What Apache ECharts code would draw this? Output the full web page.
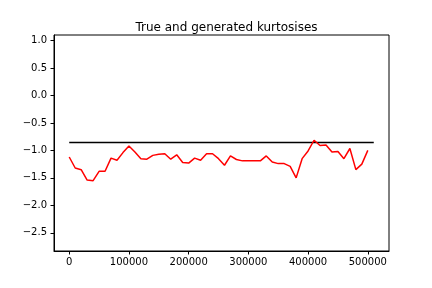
<!DOCTYPE html>
<html>
<head>
<meta charset="utf-8">
<script src="https://cdn.jsdelivr.net/npm/echarts@6/dist/echarts.min.js"></script>
<style>html,body{margin:0;padding:0;background:#fff}#c{width:432px;height:288px}</style>
</head>
<body>
<div id="c"></div>
<script>
const steps = [0,10000,20000,30000,40000,50000,60000,70000,80000,90000,
  100000,110000,120000,130000,140000,150000,160000,170000,180000,190000,
  200000,210000,220000,230000,240000,250000,260000,270000,280000,290000,
  300000,310000,320000,330000,340000,350000,360000,370000,380000,390000,
  400000,410000,420000,430000,440000,450000,460000,470000,480000,490000,500000];
const generatedKurtosis = [-1.12,-1.32,-1.35,-1.54,-1.55,-1.38,-1.38,-1.14,-1.18,-1.04,
  -0.92,-1.03,-1.15,-1.16,-1.09,-1.07,-1.06,-1.16,-1.08,-1.22,
  -1.23,-1.14,-1.18,-1.06,-1.06,-1.15,-1.27,-1.10,-1.165,-1.19,
  -1.19,-1.19,-1.19,-1.10,-1.21,-1.24,-1.24,-1.29,-1.50,-1.15,
  -1.01,-0.815,-0.91,-0.90,-1.03,-1.02,-1.15,-0.965,-1.35,-1.25,-1.00];
const trueX = [0, 510000];
const trueKurtosis = [-0.855, -0.855];
const xTicks = [0,100000,200000,300000,400000,500000];
const yTicks = [-2.5,-2.0,-1.5,-1.0,-0.5,0.0,0.5,1.0];
const titleText = 'True and generated kurtosises';

const font = 'DejaVu Sans';
const fmtY = v => (v < 0 ? '\u2212' : '') + Math.abs(v).toFixed(1);
const chart = echarts.init(document.getElementById('c'), null, {renderer:'canvas'});
chart.setOption({
  animation: false,
  backgroundColor: '#fff',
  title: {
    text: titleText, left: 221.5, top: 17, textAlign: 'center',
    textStyle: {fontFamily: font, fontSize: 12, fontWeight: 'normal', color: '#000'}
  },
  grid: {left: 54, right: 43, top: 35, bottom: 37, show: true, borderColor: '#000', borderWidth: 1, containLabel: false},
  xAxis: {
    type: 'value', min: -25500, max: 535500,
    axisLine: {show: true, onZero: false, lineStyle: {color: '#000', width: 1}},
    axisTick: {show: true, inside: false, customValues: xTicks, length: 3.5, lineStyle: {color: '#000'}},
    axisLabel: {customValues: xTicks, margin: 6, fontFamily: font, fontSize: 10, color: '#000', formatter: v => String(v)},
    splitLine: {show: false}
  },
  yAxis: {
    type: 'value', min: -2.83, max: 1.10,
    axisLine: {show: true, onZero: false, lineStyle: {color: '#000', width: 1}},
    axisTick: {show: true, inside: false, customValues: yTicks, length: 3.5, lineStyle: {color: '#000'}},
    axisLabel: {customValues: yTicks, margin: 7, fontFamily: font, fontSize: 10, color: '#000', formatter: fmtY},
    splitLine: {show: false}
  },
  series: [
    {type: 'line', data: trueX.map((x, i) => [x, trueKurtosis[i]]), showSymbol: false, silent: true,
     lineStyle: {color: '#000', width: 1.5}},
    {type: 'line', data: steps.map((x, i) => [x, generatedKurtosis[i]]), showSymbol: false, silent: true,
     lineStyle: {color: '#ff0000', width: 1.5}}
  ]
});
</script>
</body>
</html>
